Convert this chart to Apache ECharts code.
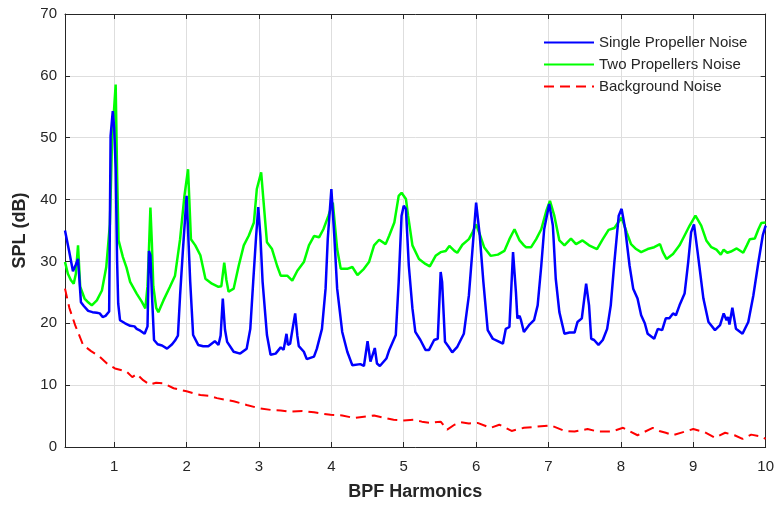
<!DOCTYPE html>
<html>
<head>
<meta charset="utf-8">
<script src="https://cdn.jsdelivr.net/npm/echarts@6/dist/echarts.min.js"></script>
<style>html,body{margin:0;padding:0;background:#fff;}#c{width:777px;height:506px;}</style>
</head>
<body>
<div id="c"></div>
<script>
const xTicks = [1,2,3,4,5,6,7,8,9,10];
const yTicks = [0,10,20,30,40,50,60,70];

const singleX = [0.32,0.38,0.43,0.47,0.50,0.54,0.58,0.64,0.70,0.76,0.80,0.84,0.88,0.93,0.95,0.97,0.98,1.00,1.02,1.04,1.055,1.08,1.15,1.22,1.28,1.31,1.36,1.42,1.46,1.48,1.50,1.52,1.55,1.60,1.66,1.73,1.80,1.84,1.88,1.91,1.95,2.0,2.05,2.09,2.16,2.23,2.30,2.39,2.44,2.47,2.50,2.53,2.56,2.65,2.74,2.83,2.88,2.92,2.96,2.99,3.02,3.05,3.11,3.16,3.23,3.30,3.34,3.38,3.40,3.43,3.45,3.50,3.53,3.55,3.62,3.66,3.76,3.80,3.87,3.92,3.95,4.0,4.04,4.08,4.15,4.22,4.29,4.40,4.45,4.50,4.54,4.60,4.63,4.67,4.76,4.80,4.89,4.93,4.97,5.0,5.03,5.07,5.12,5.16,5.23,5.30,5.35,5.42,5.47,5.51,5.53,5.57,5.62,5.67,5.74,5.83,5.90,5.95,6.0,6.05,6.10,6.16,6.23,6.30,6.37,6.41,6.46,6.51,6.55,6.57,6.60,6.62,6.66,6.73,6.80,6.85,6.90,6.94,7.01,7.06,7.10,7.15,7.22,7.29,7.36,7.40,7.46,7.52,7.56,7.59,7.63,7.69,7.75,7.81,7.86,7.91,7.97,8.01,8.06,8.12,8.17,8.23,8.28,8.33,8.37,8.46,8.51,8.57,8.62,8.67,8.72,8.76,8.81,8.88,8.93,8.97,9.01,9.06,9.14,9.21,9.30,9.37,9.42,9.46,9.48,9.50,9.54,9.59,9.68,9.76,9.83,9.90,9.96,10.0];
const singleY = [35.0,31.5,28.4,29.5,30.4,23.4,22.8,22.0,21.8,21.7,21.6,21.0,21.2,21.9,50.3,50.5,54.3,51.6,45,30,23.2,20.5,20.0,19.6,19.5,19.1,18.8,18.3,19.5,31.7,31.0,25,17.3,16.6,16.4,15.9,16.6,17.2,18.0,24.5,32,40.6,26.7,18.1,16.5,16.3,16.3,17.1,16.5,18,24,19,17,15.4,15.1,15.9,19.1,26.7,34,38.8,34,26.7,18.1,14.9,15.1,16.1,15.7,18.3,16.5,16.7,18.1,21.6,18,16.3,15.4,14.2,14.6,15.9,19.1,25.6,33.6,41.7,34.2,25.6,18.6,15.4,13.2,13.4,13.1,17.1,13.8,16.0,13.5,13.1,14.3,15.7,18.1,26.7,37.4,39.0,38.5,29.3,22.4,18.6,17.3,15.7,15.7,17.3,17.5,28.3,26.7,17.0,16.2,15.3,16.2,18.3,24.5,32.0,39.5,34.2,26.7,18.9,17.5,17.1,16.7,19.1,19.4,31.5,25,20.8,21.2,20.5,18.6,19.7,20.5,22.9,29.3,35.2,39.3,35.8,27.2,21.8,18.3,18.5,18.5,20.2,20.8,26.4,22.9,17.5,17.3,16.5,17.3,19.1,22.9,29.9,37.4,38.5,35.2,29.3,25.6,24.0,21.3,20.0,18.3,17.5,19.1,18.9,20.8,20.8,21.6,21.3,22.9,24.8,29.9,34.7,36.0,31.5,24.0,20.2,18.9,19.7,21.6,20.5,21.0,19.8,22.5,19.1,18.3,20.2,24.5,29.9,34.2,35.8];

const twoX = [0.32,0.36,0.40,0.44,0.47,0.50,0.53,0.59,0.64,0.69,0.76,0.83,0.89,0.94,0.97,1.00,1.02,1.04,1.06,1.12,1.17,1.22,1.31,1.38,1.43,1.46,1.48,1.50,1.52,1.54,1.58,1.61,1.68,1.77,1.84,1.91,1.97,2.02,2.06,2.12,2.19,2.26,2.35,2.44,2.48,2.52,2.55,2.58,2.65,2.72,2.79,2.86,2.93,2.97,3.03,3.06,3.11,3.18,3.25,3.30,3.39,3.46,3.53,3.62,3.69,3.76,3.83,3.89,3.96,4.02,4.08,4.13,4.22,4.29,4.36,4.45,4.52,4.59,4.66,4.75,4.80,4.87,4.93,4.97,5.03,5.06,5.12,5.21,5.30,5.36,5.44,5.51,5.58,5.63,5.70,5.74,5.81,5.90,5.95,6.0,6.05,6.11,6.20,6.30,6.39,6.46,6.53,6.60,6.66,6.69,6.76,6.83,6.90,6.97,7.02,7.08,7.15,7.22,7.31,7.38,7.47,7.56,7.67,7.75,7.83,7.91,8.01,8.08,8.14,8.21,8.28,8.37,8.46,8.54,8.58,8.63,8.72,8.81,8.88,8.95,9.03,9.11,9.18,9.25,9.32,9.38,9.42,9.47,9.52,9.60,9.69,9.74,9.78,9.85,9.90,9.94,10.0];
const twoY = [29.9,28,27,26.4,28,32.6,25.9,24.0,23.4,22.9,23.7,25.3,29.1,36.0,49.5,55,58.6,44,33.4,30.7,29,26.7,24.8,23.5,22.4,26,32,38.7,33,26,22.5,21.8,23.7,25.9,27.7,33.6,40.6,44.9,33.6,32.6,31.0,27.2,26.4,25.9,26,29.8,27,25.1,25.6,29.3,32.6,34.2,36.3,41.7,44.4,40.1,33.1,32.0,29.3,27.7,27.7,26.9,28.5,29.9,32.6,34.1,33.9,35.2,37.4,39.5,32.0,28.8,28.8,29.1,27.8,28.8,29.9,32.6,33.5,32.8,34.2,36.3,40.6,41.1,40.1,37.4,32.6,30.4,29.6,29.2,30.9,31.5,31.7,32.5,31.7,31.4,32.7,33.6,34.7,36.0,34.4,32.3,30.9,31.1,31.7,33.6,35.2,33.4,32.6,32.3,32.3,33.6,35.2,38.2,39.8,37.4,33.4,32.6,33.7,32.8,33.4,32.6,32.0,33.6,35.1,35.4,37.1,34.7,32.8,32.0,31.5,32.0,32.3,32.8,31.5,30.4,31.2,32.6,34.2,35.8,37.4,35.8,33.4,32.3,31.9,31.1,31.9,31.4,31.6,32.1,31.4,32.6,33.6,33.7,35.2,36.2,36.3];

const bgX = [0.32,0.38,0.46,0.57,0.68,0.80,0.90,1.01,1.17,1.25,1.31,1.40,1.49,1.58,1.68,1.82,2.0,2.19,2.30,2.42,2.55,2.65,2.83,2.99,3.16,3.30,3.43,3.60,3.76,3.99,4.15,4.31,4.45,4.59,4.70,4.86,5.00,5.14,5.25,5.37,5.51,5.60,5.70,5.79,5.90,6.02,6.20,6.32,6.49,6.66,6.85,7.03,7.22,7.36,7.54,7.68,7.87,8.03,8.23,8.44,8.53,8.62,8.72,8.86,9.00,9.16,9.30,9.44,9.57,9.68,9.80,9.94,10.0];
const bgY = [25.6,22.5,19.7,16.5,15.5,14.6,13.5,12.7,12.2,11.3,11.8,10.8,10.1,10.4,10.3,9.5,9.0,8.4,8.3,7.9,7.6,7.4,6.8,6.3,6.0,5.9,5.7,5.8,5.6,5.2,5.1,4.7,4.9,5.1,4.8,4.4,4.3,4.4,4.1,3.9,4.1,2.8,3.6,4.0,3.8,3.9,3.1,3.6,2.6,3.1,3.3,3.5,2.6,2.5,2.9,2.5,2.5,3.1,1.9,3.1,2.6,2.3,1.9,2.4,2.9,2.4,1.5,2.3,1.9,1.3,2.0,1.7,1.3];

const seriesNames = ['Single Propeller Noise','Two Propellers Noise','Background Noise'];
const zip = (xs, ys) => xs.map((x, i) => [x, ys[i]]);

const axisColor = '#262626';
const gridColor = '#dedede';
const font = 'Liberation Sans, Arial, Helvetica, sans-serif';

const chart = echarts.init(document.getElementById('c'), null, {renderer: 'canvas'});
chart.setOption({
  animation: false,
  backgroundColor: '#fff',
  textStyle: {fontFamily: font},
  grid: {left: 65, right: 11, top: 14, bottom: 57, containLabel: false},
  legend: {
    data: seriesNames,
    orient: 'vertical',
    left: 543, top: 35,
    itemWidth: 50, itemHeight: 14, itemGap: 7,
    padding: 0,
    itemStyle: {opacity: 0},
    textStyle: {fontSize: 15, color: axisColor, fontFamily: font}
  },
  xAxis: [{
    type: 'value', min: 0.32, max: 10, position: 'bottom',
    axisLine: {show: true, onZero: false, lineStyle: {color: axisColor, width: 1}},
    axisTick: {show: true, inside: true, length: 5, customValues: xTicks, lineStyle: {color: axisColor}},
    axisLabel: {customValues: xTicks, fontSize: 15, color: axisColor, margin: 12, fontFamily: font},
    splitLine: {show: true, lineStyle: {color: gridColor, width: 1}},
    name: 'BPF Harmonics', nameLocation: 'middle', nameGap: 36,
    nameTextStyle: {fontSize: 18, fontWeight: 'bold', color: axisColor, fontFamily: font}
  }, {
    type: 'value', min: 0.32, max: 10, position: 'top',
    axisLine: {show: true, onZero: false, lineStyle: {color: axisColor, width: 1}},
    axisTick: {show: true, inside: true, length: 5, customValues: xTicks, lineStyle: {color: axisColor}},
    axisLabel: {show: false},
    splitLine: {show: false}
  }],
  yAxis: [{
    type: 'value', min: 0, max: 70, interval: 10, position: 'left',
    axisLine: {show: true, onZero: false, lineStyle: {color: axisColor, width: 1}},
    axisTick: {show: true, inside: true, length: 5, lineStyle: {color: axisColor}},
    axisLabel: {fontSize: 15, color: axisColor, margin: 8, fontFamily: font},
    splitLine: {show: true, lineStyle: {color: gridColor, width: 1}},
    name: 'SPL (dB)', nameLocation: 'middle', nameGap: 32, nameRotate: 90,
    nameTextStyle: {fontSize: 18, fontWeight: 'bold', color: axisColor, fontFamily: font}
  }, {
    type: 'value', min: 0, max: 70, interval: 10, position: 'right',
    axisLine: {show: true, onZero: false, lineStyle: {color: axisColor, width: 1}},
    axisTick: {show: true, inside: true, length: 5, lineStyle: {color: axisColor}},
    axisLabel: {show: false},
    splitLine: {show: false}
  }],
  series: [
    {name: seriesNames[0], type: 'line', data: zip(singleX, singleY), symbol: 'none', showSymbol: false,
     lineStyle: {color: '#0000ff', width: 2.5}, itemStyle: {color: '#0000ff'}, z: 3},
    {name: seriesNames[1], type: 'line', data: zip(twoX, twoY), symbol: 'none', showSymbol: false,
     lineStyle: {color: '#00ff00', width: 2.5}, itemStyle: {color: '#00ff00'}, z: 2},
    {name: seriesNames[2], type: 'line', data: zip(bgX, bgY), symbol: 'none', showSymbol: false,
     lineStyle: {color: '#ff0000', width: 2, type: [10, 6]}, itemStyle: {color: '#ff0000'}, z: 4}
  ]
});
</script>
</body>
</html>
